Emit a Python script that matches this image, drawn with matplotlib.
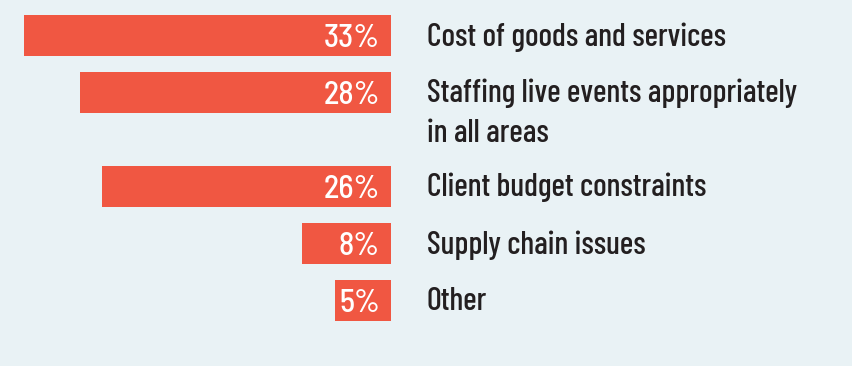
import matplotlib
matplotlib.use("Agg")
import matplotlib.pyplot as plt
import matplotlib.transforms as mtransforms

categories = [
    "Cost of goods and services",
    "Staffing live events appropriately\nin all areas",
    "Client budget constraints",
    "Supply chain issues",
    "Other",
]
values = [33, 28, 26, 8, 5]
value_labels = ["33%", "28%", "26%", "8%", "5%"]

BG = "#e9f2f5"
BAR = "#f05742"
TXT = "#231f20"
FONT_VAL = ["Barlow Semi Condensed", "DejaVu Sans"]
FONT_CAT = ["Barlow Condensed", "DejaVu Sans"]

W, H, DPI = 853, 366, 100
fig = plt.figure(figsize=(W / DPI, H / DPI), dpi=DPI, facecolor=BG)

# layout in pixels
right_px = 391
left_px = 24
row_gap = 57
extra_line_gap = 37
first_center = 35.5
bar_h = 41

ax = fig.add_axes([left_px / W, 0, (right_px - left_px) / W, 1])
ax.set_facecolor(BG)
ax.set_xlim(max(values), 0)
ax.set_ylim(H, 0)
ax.axis("off")

# row centres from label line counts
centers = []
y = first_center
for i, c in enumerate(categories):
    if i > 0:
        y += row_gap + extra_line_gap * (categories[i - 1].count("\n"))
    centers.append(y)

ax.barh(centers, values, height=bar_h, left=0, color=BAR, align="center")

px2pt = 72 / DPI
for yc, lab, cat in zip(centers, value_labels, categories):
    tr = mtransforms.offset_copy(ax.transData, fig=fig, x=-11 * px2pt, y=-11.5 * px2pt, units="points")
    ax.text(0, yc, lab, transform=tr, ha="right", va="baseline", color="white",
            fontsize=32 * px2pt, family=FONT_VAL, fontweight=500, clip_on=False)
    for k, line in enumerate(cat.split("\n")):
        tr2 = mtransforms.offset_copy(ax.transData, fig=fig, x=36 * px2pt,
                                      y=-(10 + 39.5 * k) * px2pt, units="points")
        ax.text(0, yc, line, transform=tr2, ha="left", va="baseline", color=TXT,
                fontsize=32 * px2pt, family=FONT_CAT, fontweight=500, clip_on=False)

fig.savefig("out.png", dpi=DPI, facecolor=BG)
